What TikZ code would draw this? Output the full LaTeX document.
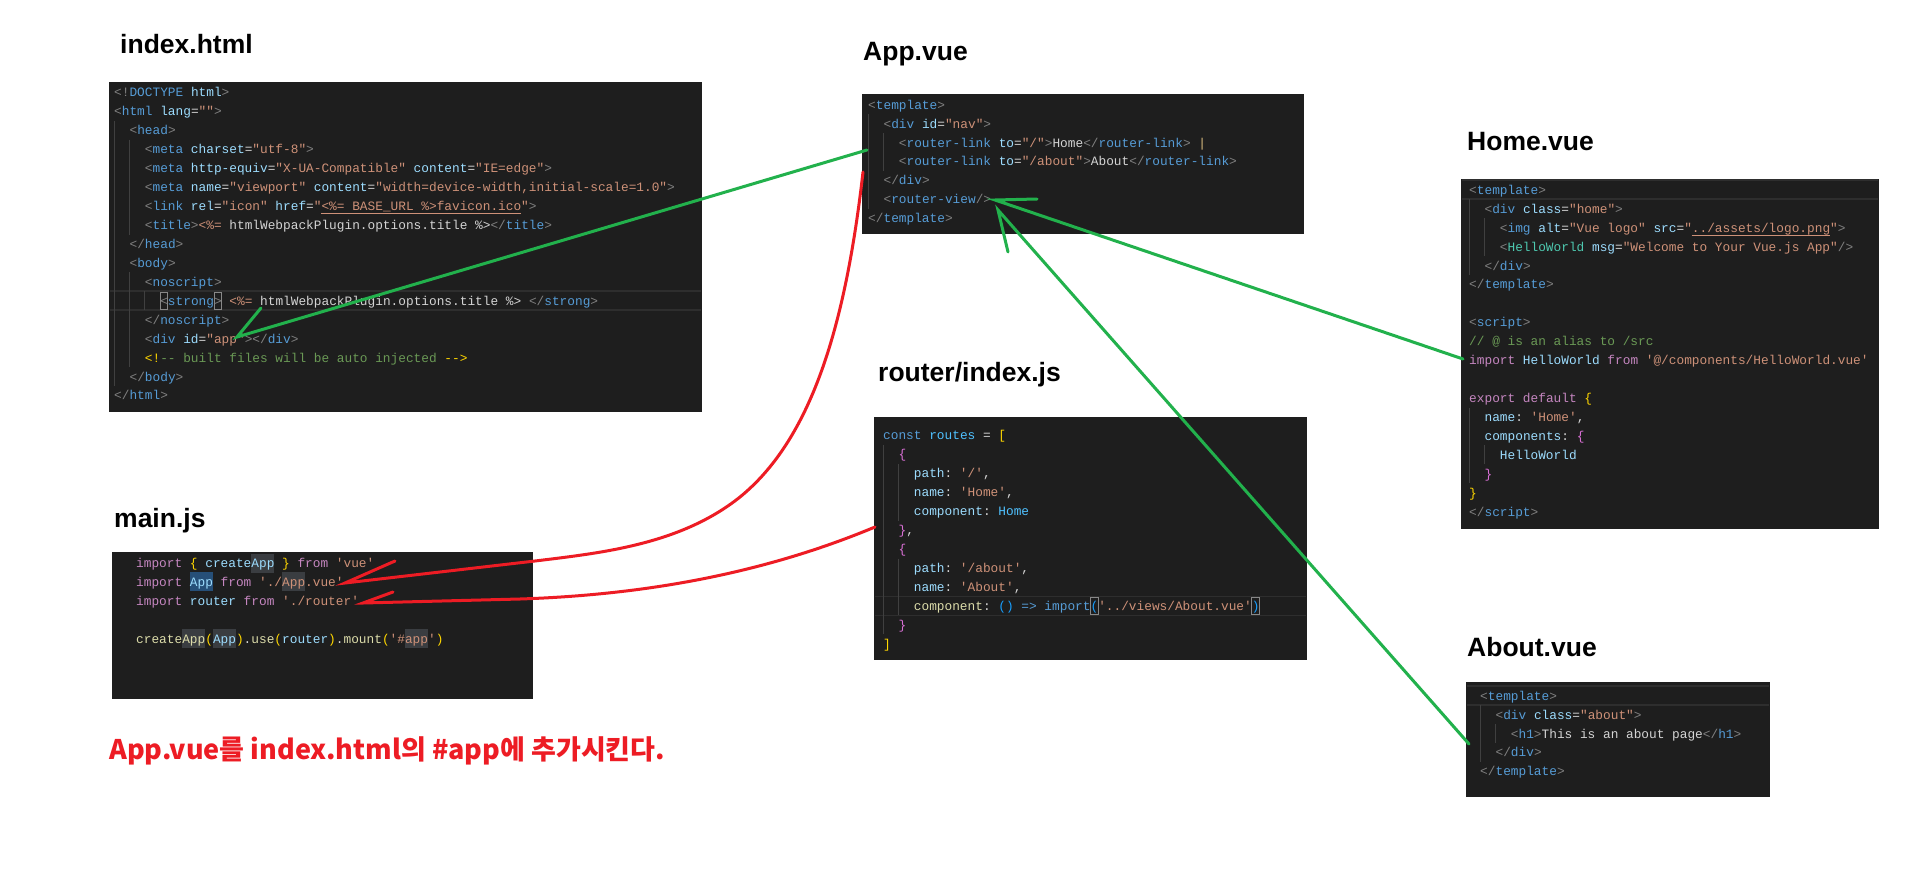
\documentclass[tikz,border=0pt]{standalone}
\usepackage{fontspec}
\setmainfont{Liberation Sans}
\setmonofont{Liberation Mono}
\newfontfamily\krfont{Noto Sans CJK KR}
\usetikzlibrary{positioning}

\definecolor{vsbg}{HTML}{1E1E1E}
\definecolor{vstx}{HTML}{D4D4D4}
\definecolor{vspun}{HTML}{808080}
\definecolor{vstag}{HTML}{569CD6}
\definecolor{vsatt}{HTML}{9CDCFE}
\definecolor{vsstr}{HTML}{CE9178}
\definecolor{vscom}{HTML}{6A9955}
\definecolor{vskw}{HTML}{C586C0}
\definecolor{vsfn}{HTML}{DCDCAA}
\definecolor{vsgold}{HTML}{FFD700}
\definecolor{vsorch}{HTML}{DA70D6}
\definecolor{vsblue}{HTML}{179FFF}
\definecolor{vscmp}{HTML}{4EC9B0}
\definecolor{vsconst}{HTML}{4FC1FF}
\definecolor{vsbar}{HTML}{D7BA7D}
\definecolor{vsguide}{HTML}{404040}
\definecolor{vscur}{HTML}{2E2E2E}
\definecolor{vsmatch}{HTML}{888888}
\definecolor{vssel}{HTML}{264F78}
\definecolor{vsfind}{HTML}{3A3D41}
\definecolor{pgreen}{HTML}{22B14C}
\definecolor{pred}{HTML}{ED1C24}

% syntax colours
\newcommand\cPu[1]{\textcolor{vspun}{#1}}
\newcommand\cTg[1]{\textcolor{vstag}{#1}}
\newcommand\cAt[1]{\textcolor{vsatt}{#1}}
\newcommand\cSt[1]{\textcolor{vsstr}{#1}}
\newcommand\cCm[1]{\textcolor{vscom}{#1}}
\newcommand\cKw[1]{\textcolor{vskw}{#1}}
\newcommand\cFn[1]{\textcolor{vsfn}{#1}}
\newcommand\cBy[1]{\textcolor{vsgold}{#1}}
\newcommand\cBp[1]{\textcolor{vsorch}{#1}}
\newcommand\cBb[1]{\textcolor{vsblue}{#1}}
\newcommand\cCp[1]{\textcolor{vscmp}{#1}}
\newcommand\cCs[1]{\textcolor{vsconst}{#1}}
\newcommand\tO{\cPu{<}}
\newcommand\tC{\cPu{>}}
\newcommand\tE{\cPu{</}}

\begin{document}
\begin{tikzpicture}[x=1pt, y=-1pt,
    codebox/.style={fill=vsbg, inner sep=0pt, anchor=north west},
    code/.style={anchor=base west, inner sep=0pt, text=vstx, font=\ttfamily\fontsize{12.8}{15}\selectfont},
    title/.style={anchor=base west, inner sep=0pt, font=\bfseries\fontsize{26.5}{30}\selectfont},
    guide/.style={draw=vsguide, line width=1pt},
    curline/.style={draw=vscur, line width=1.5pt},
    match/.style={draw=vsmatch, line width=0.8pt},
    greenpen/.style={draw=pgreen, line width=3pt, line cap=round},
    redpen/.style={draw=pred, line width=3pt, line cap=round}]
    \useasboundingbox[fill=white] (0,0) rectangle (1907,873);

    % titles
    \node[title] (tidx) at (120,53) {index.html};
    \node[title] (tapp) at (863,60) {App.vue};
    \node[title] (thome) at (1467,150) {Home.vue};
    \node[title] (trouter) at (878,381) {router/index.js};
    \node[title] (tmain) at (114,527) {main.js};
    \node[title] (tabout) at (1467,656) {About.vue};

    % code boxes
    \node[codebox, minimum width=593pt, minimum height=330pt] (idxbox) at (109,82) {};
    \node[codebox, minimum width=442pt, minimum height=140pt] (appbox) at (862,94) {};
    \node[codebox, minimum width=418pt, minimum height=350pt] (homebox) at (1461,179) {};
    \node[codebox, minimum width=433pt, minimum height=243pt] (routerbox) at (874,417) {};
    \node[codebox, minimum width=421pt, minimum height=147pt] (mainbox) at (112,552) {};
    \node[codebox, minimum width=304pt, minimum height=115pt] (aboutbox) at (1466,682) {};

    % current line bands, matching brackets, finds
    \draw[curline] (110,291.2) -- (701,291.2) (110,310.2) -- (701,310.2);
    \draw[curline] (875,596.4) -- (1306,596.4) (875,615.4) -- (1306,615.4);
    \draw[curline] (1462,180.2) -- (1878,180.2) (1462,199.1) -- (1878,199.1);
    \draw[curline] (1467,686) -- (1769,686) (1467,705) -- (1769,705);
    \draw[match] (160.1,292) rectangle (167.8,309.4);
    \draw[match] (213.9,292) rectangle (221.6,309.4);
    \draw[match] (1090.3,597.2) rectangle (1098,614.6);
    \draw[match] (1251.6,597.2) rectangle (1259.3,614.6);
    \fill[vsfind] (251.2,553.5) rectangle (274.2,572.5);
    \fill[vssel] (189.8,572.4) rectangle (212.8,591.4);
    \fill[vsfind] (281.9,572.4) rectangle (304.9,591.4);
    \fill[vsfind] (182.1,629.3) rectangle (205.1,648.3);
    \fill[vsfind] (212.8,629.3) rectangle (235.8,648.3);
    \fill[vsfind] (404.8,629.3) rectangle (427.8,648.3);

    % indent guides
    \draw[guide] (114,120.8) -- (114,386);
    \draw[guide] (129.4,139.7) -- (129.4,234.5);
    \draw[guide] (129.4,272.3) -- (129.4,367.1);
    \draw[guide] (144.7,291.2) -- (144.7,310.2);
    \draw[guide] (868,114) -- (868,208.8);
    \draw[guide] (883.4,133) -- (883.4,170.9);
    \draw[guide] (1469,199.1) -- (1469,275);
    \draw[guide] (1469,407.5) -- (1469,483.3);
    \draw[guide] (1484.4,218.1) -- (1484.4,256);
    \draw[guide] (1484.4,445.4) -- (1484.4,464.4);
    \draw[guide] (883,444.8) -- (883,634.3);
    \draw[guide] (898.4,463.8) -- (898.4,520.7);
    \draw[guide] (898.4,558.5) -- (898.4,615.4);
    \draw[guide] (1480,705) -- (1480,761.9);
    \draw[guide] (1495.4,724) -- (1495.4,743);

    % underlines
    \draw[vsstr, line width=0.8pt] (321.3,213.5) -- (521,213.5);
    \draw[vsstr, line width=0.8pt] (1691.7,235) -- (1829.9,235);

    % index.html
    \node[code] (ih1) at (114,96.9) {\cPu{<!}\cTg{DOCTYPE} \cAt{html}\tC};
    \node[code] (ih2) at (114,115.8) {\tO\cTg{html} \cAt{lang}=\cSt{""}\tC};
    \node[code] (ih3) at (129.4,134.8) {\tO\cTg{head}\tC};
    \node[code] (ih4) at (144.7,153.7) {\tO\cTg{meta} \cAt{charset}=\cSt{"utf-8"}\tC};
    \node[code] (ih5) at (144.7,172.7) {\tO\cTg{meta} \cAt{http-equiv}=\cSt{"X-UA-Compatible"} \cAt{content}=\cSt{"IE=edge"}\tC};
    \node[code] (ih6) at (144.7,191.6) {\tO\cTg{meta} \cAt{name}=\cSt{"viewport"} \cAt{content}=\cSt{"width=device-width,initial-scale=1.0"}\tC};
    \node[code] (ih7) at (144.7,210.5) {\tO\cTg{link} \cAt{rel}=\cSt{"icon"} \cAt{href}=\cSt{"<\%= BASE\_URL \%>favicon.ico"}\tC};
    \node[code] (ih8) at (144.7,229.5) {\tO\cTg{title}\tC\cSt{<\%=} htmlWebpackPlugin.options.title \%>\tE\cTg{title}\tC};
    \node[code] (ih9) at (129.4,248.4) {\tE\cTg{head}\tC};
    \node[code] (ih10) at (129.4,267.4) {\tO\cTg{body}\tC};
    \node[code] (ih11) at (144.7,286.3) {\tO\cTg{noscript}\tC};
    \node[code] (ih12) at (160.1,305.2) {\tO\cTg{strong}\tC{} \cSt{<\%=} htmlWebpackPlugin.options.title \%> \tE\cTg{strong}\tC};
    \node[code] (ih13) at (144.7,324.2) {\tE\cTg{noscript}\tC};
    \node[code] (ih14) at (144.7,343.1) {\tO\cTg{div} \cAt{id}=\cSt{"app"}\tC\tE\cTg{div}\tC};
    \node[code] (ih15) at (144.7,362.1) {\cBy{<!}\cCm{-- built files will be auto injected }\cBy{-->}};
    \node[code] (ih16) at (129.4,381) {\tE\cTg{body}\tC};
    \node[code] (ih17) at (114,399.9) {\tE\cTg{html}\tC};

    % App.vue
    \node[code] (av1) at (868,109.1) {\tO\cTg{template}\tC};
    \node[code] (av2) at (883.4,128) {\tO\cTg{div} \cAt{id}=\cSt{"nav"}\tC};
    \node[code] (av3) at (898.7,147) {\tO\cTg{router-link} \cAt{to}=\cSt{"/"}\tC Home\tE\cTg{router-link}\tC{} \textcolor{vsbar}{|}};
    \node[code] (av4) at (898.7,165.9) {\tO\cTg{router-link} \cAt{to}=\cSt{"/about"}\tC About\tE\cTg{router-link}\tC};
    \node[code] (av5) at (883.4,184.9) {\tE\cTg{div}\tC};
    \node[code] (av6) at (883.4,203.8) {\tO\cTg{router-view}\cPu{/>}};
    \node[code] (av7) at (868,222.7) {\tE\cTg{template}\tC};

    % Home.vue
    \node[code] (hv1) at (1469,194.2) {\tO\cTg{template}\tC};
    \node[code] (hv2) at (1484.4,213.1) {\tO\cTg{div} \cAt{class}=\cSt{"home"}\tC};
    \node[code] (hv3) at (1499.7,232.1) {\tO\cTg{img} \cAt{alt}=\cSt{"Vue logo"} \cAt{src}=\cSt{"../assets/logo.png"}\tC};
    \node[code] (hv4) at (1499.7,251) {\tO\cCp{HelloWorld} \cAt{msg}=\cSt{"Welcome to Your Vue.js App"}\cPu{/>}};
    \node[code] (hv5) at (1484.4,270) {\tE\cTg{div}\tC};
    \node[code] (hv6) at (1469,288.9) {\tE\cTg{template}\tC};
    \node[code] (hv8) at (1469,326.8) {\tO\cTg{script}\tC};
    \node[code] (hv9) at (1469,345.7) {\cCm{// @ is an alias to /src}};
    \node[code] (hv10) at (1469,364.7) {\cKw{import} \cAt{HelloWorld} \cKw{from} \cSt{'@/components/HelloWorld.vue'}};
    \node[code] (hv12) at (1469,402.5) {\cKw{export} \cKw{default} \cBy{\{}};
    \node[code] (hv13) at (1484.4,421.5) {\cAt{name}: \cSt{'Home'},};
    \node[code] (hv14) at (1484.4,440.4) {\cAt{components}: \cBp{\{}};
    \node[code] (hv15) at (1499.7,459.4) {\cAt{HelloWorld}};
    \node[code] (hv16) at (1484.4,478.3) {\cBp{\}}};
    \node[code] (hv17) at (1469,497.2) {\cBy{\}}};
    \node[code] (hv18) at (1469,516.2) {\tE\cTg{script}\tC};

    % router/index.js
    \node[code] (rj1) at (883,439.9) {\cTg{const} \cCs{routes} = \cBy{[}};
    \node[code] (rj2) at (898.4,458.8) {\cBp{\{}};
    \node[code] (rj3) at (913.7,477.8) {\cAt{path}: \cSt{'/'},};
    \node[code] (rj4) at (913.7,496.7) {\cAt{name}: \cSt{'Home'},};
    \node[code] (rj5) at (913.7,515.7) {\cAt{component}: \cCs{Home}};
    \node[code] (rj6) at (898.4,534.6) {\cBp{\}},};
    \node[code] (rj7) at (898.4,553.5) {\cBp{\{}};
    \node[code] (rj8) at (913.7,572.5) {\cAt{path}: \cSt{'/about'},};
    \node[code] (rj9) at (913.7,591.4) {\cAt{name}: \cSt{'About'},};
    \node[code] (rj10) at (913.7,610.4) {\cFn{component}: \cBb{()} \cTg{=>} \cTg{import}\cBb{(}\cSt{'../views/About.vue'}\cBb{)}};
    \node[code] (rj11) at (898.4,629.3) {\cBp{\}}};
    \node[code] (rj12) at (883,648.2) {\cBy{]}};

    % main.js
    \node[code] (mj1) at (136,567.5) {\cKw{import} \cBy{\{} \cAt{createApp} \cBy{\}} \cKw{from} \cSt{'vue'}};
    \node[code] (mj2) at (136,586.4) {\cKw{import} \cAt{App} \cKw{from} \cSt{'./App.vue'}};
    \node[code] (mj3) at (136,605.4) {\cKw{import} \cAt{router} \cKw{from} \cSt{'./router'}};
    \node[code] (mj5) at (136,643.3) {\cFn{createApp}\cBy{(}\cAt{App}\cBy{)}.\cFn{use}\cBy{(}\cAt{router}\cBy{)}.\cFn{mount}\cBy{(}\cSt{'\#app'}\cBy{)}};

    % About.vue
    \node[code] (ab1) at (1480,700.1) {\tO\cTg{template}\tC};
    \node[code] (ab2) at (1495.4,719) {\tO\cTg{div} \cAt{class}=\cSt{"about"}\tC};
    \node[code] (ab3) at (1510.7,738) {\tO\cTg{h1}\tC This is an about page\tE\cTg{h1}\tC};
    \node[code] (ab4) at (1495.4,756.9) {\tE\cTg{div}\tC};
    \node[code] (ab5) at (1480,775.9) {\tE\cTg{template}\tC};

    % note
    \node[anchor=base west, inner sep=0pt, text=pred, font=\krfont\bfseries\fontsize{27}{31}\selectfont] (note) at (109,759) {App.vue를 index.html의 \#app에 추가시킨다.};

    % hand-drawn connectors
    \coordinate (appL1) at (867,150);
    \coordinate (appL2) at (863,172);
    \coordinate (divapp) at (237,337);
    \coordinate (mainApp) at (345,583);
    \coordinate (mainRouter) at (363,603);
    \coordinate (routerL) at (875,527);
    \coordinate (homeL) at (1463,359);
    \coordinate (aboutL) at (1469,744);
    \coordinate (rview1) at (995,200);
    \coordinate (rview2) at (998,210);
    \draw[greenpen] (appL1) -- (divapp) -- ++(24,-29);
    \draw[redpen] (appL2) .. controls (845,330) and (810,440) .. (740,497) .. controls (680,545) and (600,553) .. (535,561) -- (mainApp) -- ++(50,-22);
    \draw[redpen] (routerL) .. controls (760,575) and (640,595) .. (520,599) -- (mainRouter) -- ++(30,-11);
    \draw[greenpen] (homeL) -- (rview1) -- ++(42,-1);
    \draw[greenpen] (aboutL) -- (rview2) -- ++(10,42);
\end{tikzpicture}
\end{document}
